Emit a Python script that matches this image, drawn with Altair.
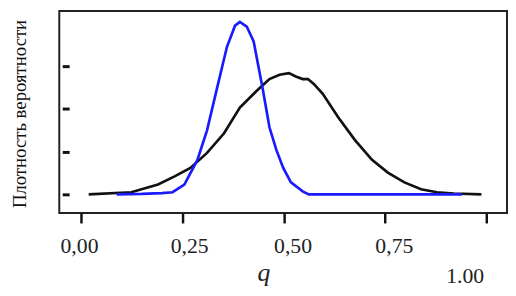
import altair as alt
import pandas as pd

# ---- data ----
q_black = [0.019, 0.124, 0.19, 0.231, 0.27, 0.311, 0.353, 0.392, 0.433, 0.465, 0.49, 0.513,
           0.53, 0.547, 0.56, 0.575, 0.596, 0.635, 0.676, 0.718, 0.757, 0.798, 0.839, 0.878,
           0.92, 0.988]
d_black = [0.0, 0.05, 0.23, 0.42, 0.62, 0.97, 1.43, 2.03, 2.42, 2.70, 2.80, 2.84,
           2.76, 2.70, 2.70, 2.58, 2.36, 1.80, 1.27, 0.81, 0.51, 0.28, 0.12, 0.05,
           0.02, 0.0]

q_blue = [0.088, 0.15, 0.2, 0.226, 0.255, 0.287, 0.311, 0.336, 0.36, 0.38, 0.392, 0.409,
          0.426, 0.448, 0.465, 0.482, 0.499, 0.518, 0.547, 0.562, 0.58, 0.94]
d_blue = [0.0, 0.01, 0.03, 0.05, 0.23, 0.8, 1.5, 2.5, 3.45, 3.95, 4.04, 3.93,
          3.58, 2.49, 1.57, 1.04, 0.62, 0.28, 0.07, 0.0, 0.0, 0.0]

series_names = ["prior", "posterior"]
series_colors = ["#111111", "#1a1aff"]

x_ticks = [0.0, 0.25, 0.5, 0.75, 1.0]
x_tick_labels = ["0,00", "0,25", "0,50", "0,75", "1.00"]
y_ticks = [0, 1, 2, 3]

x_title = "q"
y_title = "Плотность вероятности"

# ---- build table ----
rows = []
for q, d in zip(q_black, d_black):
    rows.append({"q": q, "d": d, "s": series_names[0]})
for q, d in zip(q_blue, d_blue):
    rows.append({"q": q, "d": d, "s": series_names[1]})
df = pd.DataFrame(rows)

label_expr = ""
for v, lab in zip(x_ticks, x_tick_labels):
    label_expr += f"datum.value == {v} ? '{lab}' : "
label_expr += "''"

SERIF = "Liberation Serif, Times New Roman, serif"

x_axis = alt.Axis(
    values=x_ticks,
    labelExpr=label_expr,
    domain=False,
    grid=False,
    ticks=True,
    tickSize=10,
    tickWidth=2.5,
    tickColor="#111",
    labelFont=SERIF,
    labelFontSize=22,
    labelColor="#222",
    labelBaseline="alphabetic",
    labelAlign="center",
    labelPadding={"condition": {"test": "datum.value == 1", "value": 60}, "value": 30},
    labelOffset={"condition": [
        {"test": "datum.value == 1", "value": -22},
        {"test": "datum.value == 0", "value": -2},
        {"test": "datum.value == 0.25", "value": 7},
    ], "value": 9},
    labelFlush=False,
    labelOverlap=False,
    title=x_title,
    titleFont=SERIF,
    titleFontStyle="italic",
    titleFontWeight="normal",
    titleFontSize=26,
    titleColor="#222",
    titleX=207,
    titleY=68,
    titleAlign="center",
    titleBaseline="alphabetic",
)

y_axis = alt.Axis(
    values=y_ticks,
    labels=False,
    domain=False,
    grid=False,
    ticks=True,
    tickSize=7,
    tickWidth=3,
    tickColor="#111",
    offset=-10,
    title=y_title,
    titleFont=SERIF,
    titleFontWeight="normal",
    titleFontSize=19,
    titleColor="#111",
    titleAngle=270,
    titleAlign="center",
    titleBaseline="alphabetic",
    titleX=-44,
    titleY=104,
)

chart = alt.Chart(df).mark_line(strokeWidth=2.7).encode(
    x=alt.X("q:Q", scale=alt.Scale(domain=[-0.05353, 1.05109], nice=False, zero=False), axis=x_axis),
    y=alt.Y("d:Q", scale=alt.Scale(domain=[-0.4388, 4.2956], nice=False, zero=False), axis=y_axis),
    color=alt.Color("s:N", scale=alt.Scale(domain=series_names, range=series_colors), legend=None),
    order="q:Q",
).properties(
    width=454,
    height=205,
    autosize=alt.AutoSizeParams(type="none"),
    padding={"left": 52, "top": 1, "right": 1, "bottom": 74},
).configure(
    background="white",
    view=alt.ViewConfig(stroke="#222", strokeWidth=2, fill="white"),
)

chart.save("out.html", embed_options={"renderer": "svg", "actions": False})
